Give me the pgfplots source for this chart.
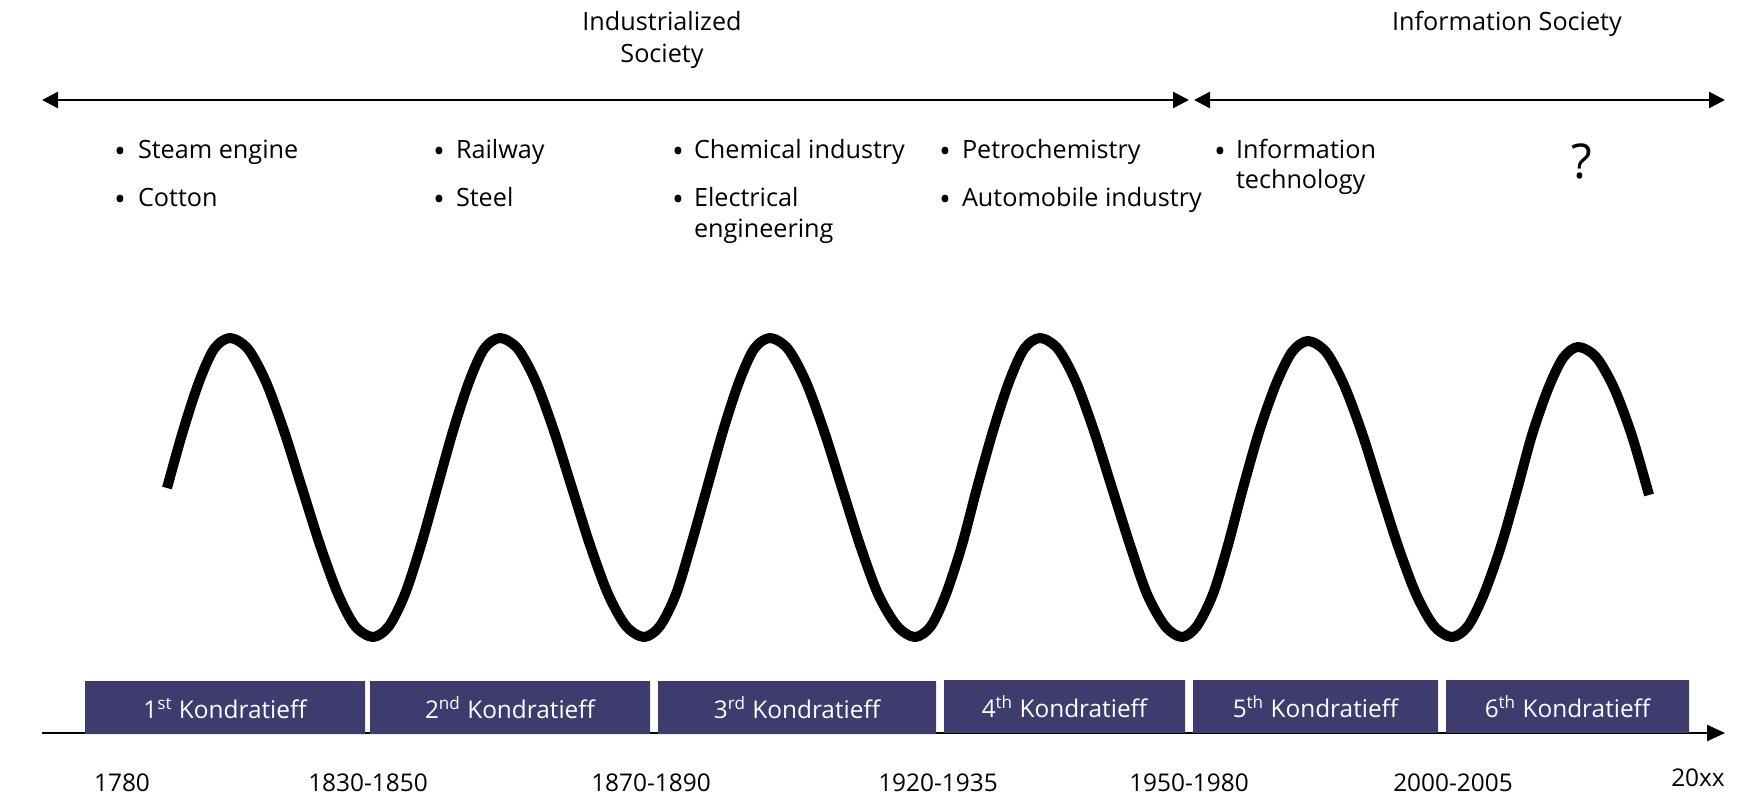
\documentclass[border=0pt]{standalone}
\usepackage{pgfplots}
\pgfplotsset{compat=1.18}
\usepackage{fontspec}
\setmainfont{Open Sans}
\usetikzlibrary{arrows.meta}
\definecolor{kbox}{RGB}{62,60,110}
\newcommand{\ft}{\fontsize{12.6}{14.5}\selectfont}
\newcommand{\fb}{\fontsize{12.2}{14.5}\selectfont}
\newcommand{\bul}{\raisebox{-1.8pt}{\scalebox{1.25}{\textbullet}}}
\tikzset{t/.style={inner sep=0pt,outer sep=0pt,font=\ft},
  bx/.style={inner sep=0pt,outer sep=0pt,font=\fb,text=white},
  yr/.style={inner sep=0pt,outer sep=0pt,font=\fb}}
\begin{document}
\begin{tikzpicture}
\begin{axis}[name=ax,width=870.5pt,height=398pt,scale only axis,
  xmin=0,xmax=1741,ymin=0,ymax=796,y dir=reverse,
  axis lines=none,clip=false]

% top arrows
\addplot[line width=1.3pt,{Triangle[length=8pt,width=8pt]}-{Triangle[length=8pt,width=8pt]}]
  coordinates {(42,100) (1189,100)};
\addplot[line width=1.3pt,{Triangle[length=8pt,width=8pt]}-{Triangle[length=8pt,width=8pt]}]
  coordinates {(1194,100) (1725,100)};

% bottom time axis
\addplot[line width=1.2pt,-{Triangle[length=9pt,width=8pt]}]
  coordinates {(42,733) (1725,733)};

% Kondratieff boxes
\addplot[fill=kbox,draw=none] coordinates {(85,681) (365,681) (365,734) (85,734) (85,681)};
\addplot[fill=kbox,draw=none] coordinates {(370,681) (650,681) (650,734) (370,734) (370,681)};
\addplot[fill=kbox,draw=none] coordinates {(658,681) (936,681) (936,734) (658,734) (658,681)};
\addplot[fill=kbox,draw=none] coordinates {(944,680) (1185,680) (1185,733) (944,733) (944,680)};
\addplot[fill=kbox,draw=none] coordinates {(1193,680) (1438,680) (1438,733) (1193,733) (1193,680)};
\addplot[fill=kbox,draw=none] coordinates {(1446,680) (1689,680) (1689,733) (1446,733) (1446,680)};

% the wave
\addplot[line width=5pt,smooth,line join=round] coordinates {
(167,488) (183,431) (199,382) (214,349) (230,338)
(248,349) (266,382) (284,431) (302,488)
(320,545) (338,594) (355,626) (373,637)
(389,626) (405,594) (421,545) (437,488)
(453,431) (469,382) (484,349) (500,338)
(518,349) (536,382) (554,431) (572,488)
(590,545) (608,594) (626,626) (644,637)
(660,626) (676,594) (691,545) (707,488)
(723,431) (739,382) (754,349) (770,338)
(788,349) (806,382) (824,431) (842,488)
(860,545) (878,594) (897,626) (915,637)
(931,626) (946,594) (962,545) (977,488)
(993,431) (1009,382) (1024,349) (1040,338)
(1058,349) (1076,382) (1094,431) (1112,488)
(1130,545) (1147,594) (1165,626) (1182,637)
(1197,626) (1213,594) (1228,545) (1243,488)
(1259,432) (1276,384) (1292,352) (1308,341)
(1326,352) (1344,385) (1362,433) (1380,490)
(1398,546) (1416,594) (1434,626) (1452,637)
(1468,626) (1484,594) (1501,546) (1517,490)
(1532,435) (1548,389) (1563,358) (1578,347)
(1596,357) (1614,388) (1632,436) (1649,495)
};

% society labels
\node[t,anchor=base] at (axis cs:662,31) {Industrialized};
\node[t,anchor=base] at (axis cs:662,63) {Society};
\node[t,anchor=base] at (axis cs:1507,31) {Information Society};

% bullets
\node[t,anchor=base] at (axis cs:120,159) {\bul};
\node[t,anchor=base west] at (axis cs:138,159) {Steam engine};
\node[t,anchor=base] at (axis cs:120,207) {\bul};
\node[t,anchor=base west] at (axis cs:138,207) {Cotton};

\node[t,anchor=base] at (axis cs:439,159) {\bul};
\node[t,anchor=base west] at (axis cs:456,159) {Railway};
\node[t,anchor=base] at (axis cs:439,207) {\bul};
\node[t,anchor=base west] at (axis cs:456,207) {Steel};

\node[t,anchor=base] at (axis cs:678,159) {\bul};
\node[t,anchor=base west] at (axis cs:694,159) {Chemical industry};
\node[t,anchor=base] at (axis cs:678,207) {\bul};
\node[t,anchor=base west] at (axis cs:694,207) {Electrical};
\node[t,anchor=base west] at (axis cs:694,238) {engineering};

\node[t,anchor=base] at (axis cs:945,159) {\bul};
\node[t,anchor=base west] at (axis cs:962,159) {Petrochemistry};
\node[t,anchor=base] at (axis cs:945,207) {\bul};
\node[t,anchor=base west] at (axis cs:962,207) {Automobile industry};

\node[t,anchor=base] at (axis cs:1220,159) {\bul};
\node[t,anchor=base west] at (axis cs:1236,159) {Information};
\node[t,anchor=base west] at (axis cs:1236,189) {technology};

\node[inner sep=0pt,font=\fontsize{24}{28}\selectfont] at (axis cs:1582,161) {?};

% box labels
\node[bx,anchor=base] at (axis cs:225,718) {1\textsuperscript{st} Kondratieff};
\node[bx,anchor=base] at (axis cs:510,718) {2\textsuperscript{nd} Kondratieff};
\node[bx,anchor=base] at (axis cs:797,718) {3\textsuperscript{rd} Kondratieff};
\node[bx,anchor=base] at (axis cs:1064.5,717) {4\textsuperscript{th} Kondratieff};
\node[bx,anchor=base] at (axis cs:1315.5,717) {5\textsuperscript{th} Kondratieff};
\node[bx,anchor=base] at (axis cs:1567.5,717) {6\textsuperscript{th} Kondratieff};

% years
\node[yr,anchor=base] at (axis cs:122,791) {1780};
\node[yr,anchor=base] at (axis cs:368,791) {1830-1850};
\node[yr,anchor=base] at (axis cs:651,791) {1870-1890};
\node[yr,anchor=base] at (axis cs:938,791) {1920-1935};
\node[yr,anchor=base] at (axis cs:1189,791) {1950-1980};
\node[yr,anchor=base] at (axis cs:1453,791) {2000-2005};
\node[yr,anchor=base] at (axis cs:1698,786) {20xx};

\end{axis}
\pgfresetboundingbox
\path (ax.south west) rectangle (ax.north east);
\end{tikzpicture}
\end{document}
